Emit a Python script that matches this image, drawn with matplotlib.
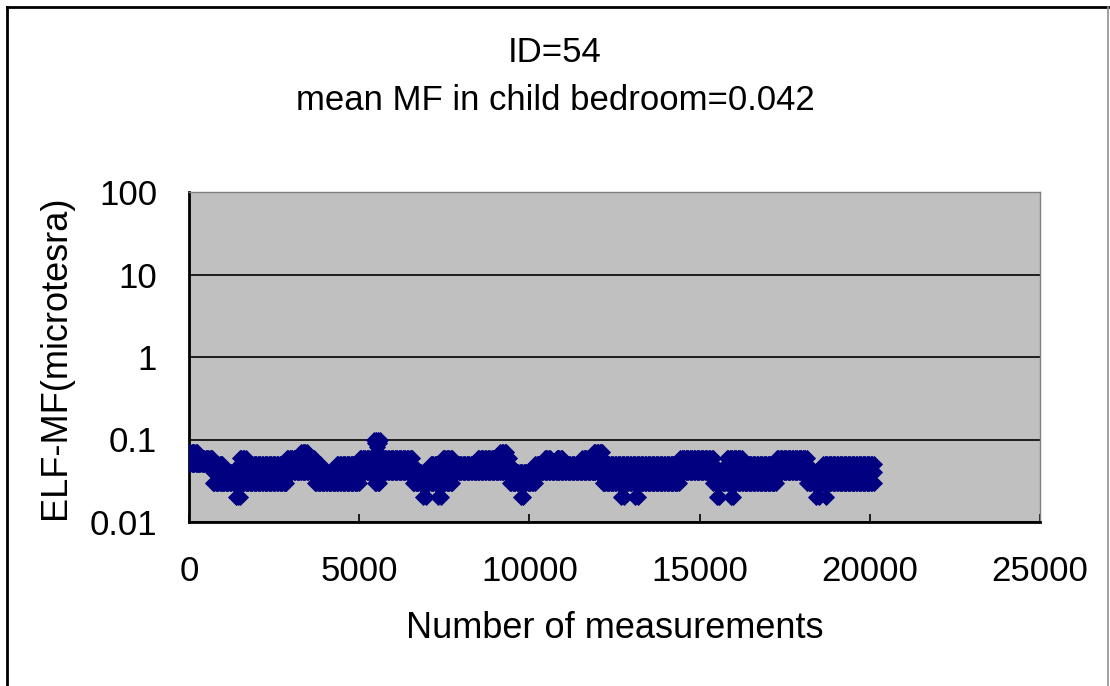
import numpy as np
import matplotlib
matplotlib.use('Agg')
import matplotlib.pyplot as plt
from matplotlib.lines import Line2D
from matplotlib.ticker import FixedLocator, FixedFormatter

plt.rcParams['font.family'] = ['Liberation Sans', 'DejaVu Sans']

# Band of readings: each segment covers measurements [start, end) with values from low to high (microtesla)
seg_start = [0, 250, 700, 1000, 1500, 1700, 2880, 3300, 3500, 3700, 3900, 4350, 5020, 5460,
             5600, 6580, 7100, 7450, 7760, 8490, 9150, 9350, 9430, 10170, 10450, 10650,
             10800, 11000, 11550, 11900, 12150, 12870, 14430, 15400, 15800, 16280, 17270,
             18160, 18630]
seg_end = seg_start[1:] + [20150]
seg_low = [0.05, 0.05, 0.03, 0.03, 0.03, 0.03, 0.04, 0.04, 0.04, 0.03, 0.03, 0.03, 0.04, 0.03,
           0.04, 0.03, 0.03, 0.03, 0.04, 0.04, 0.04, 0.04, 0.03, 0.04, 0.04, 0.04,
           0.04, 0.04, 0.04, 0.04, 0.03, 0.03, 0.04, 0.03, 0.03, 0.03, 0.04,
           0.03, 0.03]
seg_high = [0.07, 0.06, 0.05, 0.04, 0.06, 0.05, 0.06, 0.07, 0.06, 0.05, 0.04, 0.05, 0.06, 0.06,
            0.06, 0.04, 0.05, 0.06, 0.05, 0.06, 0.07, 0.06, 0.04, 0.05, 0.06, 0.05,
            0.06, 0.05, 0.06, 0.07, 0.05, 0.05, 0.06, 0.04, 0.06, 0.05, 0.06,
            0.04, 0.05]

# isolated low readings (0.02)
low_x = [1380, 1440, 1500, 6880, 6950, 7320, 7400, 9740, 9800, 12700, 12780, 13100, 13180,
         15500, 15560, 15920, 15980, 18420, 18500, 18700]
low_y = [0.02] * len(low_x)

# the peak near 5500
peak_x = [5440, 5500, 5560, 5620, 5470, 5530, 5590, 5520, 5520]
peak_y = [0.1, 0.1, 0.1, 0.1, 0.09, 0.09, 0.09, 0.08, 0.07]

x_ticks = [0, 5000, 10000, 15000, 20000, 25000]
y_ticks = [0.01, 0.1, 1, 10, 100]
y_labels = ['0.01', '0.1', '1', '10', '100']

navy = '#000080'
ms = 8.6

fig = plt.figure(figsize=(11.1, 6.86), dpi=100)
ax = fig.add_axes([189/1110, 1-522/686, (1040-189)/1110, (522-192)/686])
ax.set_facecolor('#c0c0c0')

step = 40
for s, e, lo, hi in zip(seg_start, seg_end, seg_low, seg_high):
    xs = np.arange(s, e, step)
    for lev in np.arange(lo, hi + 0.005, 0.01):
        ax.plot(xs, np.full(len(xs), lev), 'D', ms=ms, color=navy, mec=navy, mew=0.6, zorder=3)
ax.plot(low_x, low_y, 'D', ms=ms, color=navy, mec=navy, mew=0.6, zorder=3)
ax.plot(peak_x, peak_y, 'D', ms=ms, color=navy, mec=navy, mew=0.6, zorder=3)

ax.set_yscale('log')
ax.set_ylim(0.01, 100)
ax.set_xlim(0, 25000)
ax.yaxis.set_major_locator(FixedLocator(y_ticks))
ax.yaxis.set_major_formatter(FixedFormatter(y_labels))
ax.yaxis.set_minor_locator(FixedLocator([]))
ax.set_xticks(x_ticks)
ax.set_xticklabels([str(t) for t in x_ticks])

ax.grid(axis='y', color='black', lw=1.2, zorder=1)
ax.set_axisbelow(True)
ax.tick_params(axis='x', direction='in', length=6, width=1.2, pad=24, labelsize=25)
ax.tick_params(axis='y', direction='in', length=0, pad=23, labelsize=25)

for side in ['left', 'bottom']:
    ax.spines[side].set_color('black')
    ax.spines[side].set_linewidth(2)
for side in ['top', 'right']:
    ax.spines[side].set_color('#808080')
    ax.spines[side].set_linewidth(1)

ax.set_xlabel('Number of measurements', fontsize=26)
ax.xaxis.set_label_coords(0.5, (522-629)/330)
ax.xaxis.label.set_va('center')
ax.set_ylabel('ELF-MF(microtesra)', fontsize=26)
ax.yaxis.set_label_coords((56-189)/851, 0.5)
ax.yaxis.label.set_va('center')

fig.text(0.5, 1-52/686, 'ID=54', ha='center', va='center', fontsize=25)
fig.text(0.5, 1-100/686, 'mean MF in child bedroom=0.042', ha='center', va='center', fontsize=25)

# chart frame
fig.add_artist(Line2D([7/1110, 7/1110], [-0.01, 1-7/686], color='black', lw=2))
fig.add_artist(Line2D([7/1110, 1108/1110], [1-7/686, 1-7/686], color='black', lw=2))
fig.add_artist(Line2D([1108/1110, 1108/1110], [-0.01, 1-7/686], color='#909090', lw=1.2))

fig.savefig('out.png', dpi=100)
